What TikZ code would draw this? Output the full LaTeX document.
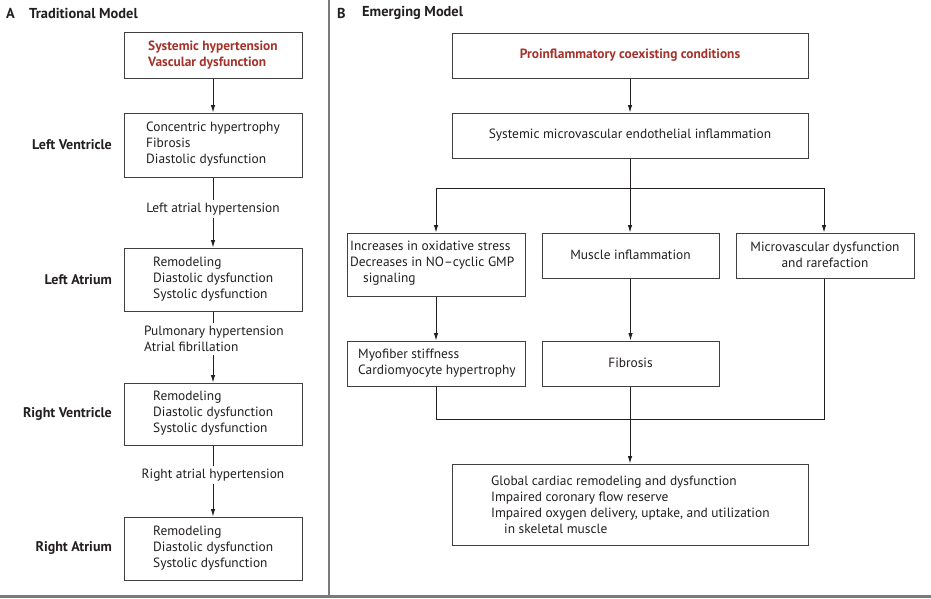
\documentclass[tikz,border=0pt]{standalone}
\usepackage{fontspec}
\setmainfont{PT Sans}
\usetikzlibrary{arrows.meta}
\definecolor{boxline}{HTML}{404040}
\definecolor{txt}{HTML}{231F20}
\definecolor{nejmred}{HTML}{A5332B}
\definecolor{rule}{HTML}{7A7A7A}
\begin{document}
\begin{tikzpicture}[x=1pt,y=-1pt,
  box/.style={draw=boxline,line width=1pt,inner sep=0pt,fill=white},
  lbox/.style={box,minimum width=178pt},
  wbox/.style={box,minimum width=356pt},
  body/.style={inner sep=0pt,text=txt,font=\fontsize{13.4}{16}\selectfont,align=left},
  cbody/.style={body,align=center},
  redt/.style={inner sep=0pt,text=nejmred,font=\fontsize{13.4}{16}\selectfont\bfseries,align=left},
  side/.style={inner sep=0pt,text=txt,font=\fontsize{14}{16}\selectfont\bfseries,anchor=east},
  head/.style={inner sep=0pt,text=txt,font=\fontsize{14.4}{16}\selectfont\bfseries,anchor=west},
  conn/.style={draw=txt,line width=0.9pt},
  arr/.style={conn,-{Latex[length=7.5pt,width=4.5pt]}},
  lab/.style={body,fill=white,inner xsep=1pt,inner ysep=3pt}]
\useasboundingbox (0,0) rectangle (931,598);
\fill[white] (0,0) rectangle (931,598);
% frame rules
\coordinate (divtop) at (329,0);
\coordinate (divbot) at (329,596);
\coordinate (botl) at (0,596.5);
\coordinate (botr) at (931,596.5);
\draw[rule,line width=1.6pt] (divtop) -- (divbot);
\draw[rule,line width=2.6pt] (botl) -- (botr);
% headers
\node[head] (hA) at (6,13) {A};
\node[head] (hAt) at (29,13) {Traditional Model};
\node[head] (hB) at (337,13) {B};
\node[head] (hBt) at (362,13) {Emerging Model};
% ---------- Panel A ----------
\node[lbox,minimum height=46pt] (a1) at (213,55) {};
\node[lbox,minimum height=64pt] (a2) at (213,145) {};
\node[lbox,minimum height=63pt] (a3) at (213,279.5) {};
\node[lbox,minimum height=62pt] (a4) at (213,414) {};
\node[lbox,minimum height=63pt] (a5) at (213,548.5) {};
\node[redt,anchor=west] (a1t) at (148,55) {Systemic hypertension\\Vascular dysfunction};
\node[body,anchor=west] (a2t) at (146,144) {Concentric hypertrophy\\Fibrosis\\Diastolic dysfunction};
\node[body,anchor=west] (a3t) at (153,279) {Remodeling\\Diastolic dysfunction\\Systolic dysfunction};
\node[body,anchor=west] (a4t) at (153,413) {Remodeling\\Diastolic dysfunction\\Systolic dysfunction};
\node[body,anchor=west] (a5t) at (153,548) {Remodeling\\Diastolic dysfunction\\Systolic dysfunction};
\node[side] (lv) at (112,145) {Left Ventricle};
\node[side] (la) at (112,280) {Left Atrium};
\node[side] (rv) at (112,414) {Right Ventricle};
\node[side] (ra) at (112,548) {Right Atrium};
\draw[arr] (a1) -- (a2);
\draw[arr] (a2) -- (a3);
\draw[arr] (a3) -- (a4);
\draw[arr] (a4) -- (a5);
\node[lab] (l1) at (213,209) {Left atrial hypertension};
\node[lab,anchor=west] (l2) at (143,339) {Pulmonary hypertension\\Atrial fibrillation};
\node[lab] (l3) at (213,475) {Right atrial hypertension};
% ---------- Panel B ----------
\node[wbox,minimum height=45pt] (p) at (630,55.5) {};
\node[redt] (pt) at (630,55) {Proinflammatory coexisting conditions};
\node[wbox,minimum height=45pt] (s) at (630,135.5) {};
\node[body] (st) at (630,135) {Systemic microvascular endothelial inflammation};
\node[lbox,minimum height=63pt] (i) at (436,264.5) {};
\node[body,anchor=west] (it) at (350,263) {Increases in oxidative stress\\Decreases in NO--cyclic GMP\\\hspace*{13pt}signaling};
\node[lbox,minimum width=177pt,minimum height=45pt] (m) at (630.5,255.5) {};
\node[body] (mt) at (630.5,255) {Muscle inflammation};
\node[lbox,minimum height=45pt] (v) at (825,255.5) {};
\node[cbody] (vt) at (825,255) {Microvascular dysfunction\\and rarefaction};
\node[lbox,minimum height=45pt] (my) at (436,363.5) {};
\node[body,anchor=west] (myt) at (358,363) {Myofiber stiffness\\Cardiomyocyte hypertrophy};
\node[lbox,minimum width=177pt,minimum height=45pt] (f) at (630.5,363.5) {};
\node[body] (ft) at (630.5,363) {Fibrosis};
\node[wbox,minimum height=81pt] (g) at (630,504.5) {};
\node[body,anchor=west] (gt) at (491,504.5) {Global cardiac remodeling and dysfunction\\Impaired coronary flow reserve\\Impaired oxygen delivery, uptake, and utilization\\\hspace*{13pt}in skeletal muscle};
\draw[arr] (p) -- (s);
% branch
\coordinate (bc) at (630,188);
\coordinate (bl) at (436,188);
\coordinate (br) at (824,188);
\draw[conn] (s.south) -- (bc);
\draw[conn] (bl) -- (br);
\draw[arr] (bl) -- (bl |- i.north);
\draw[arr] (bc) -- (bc |- m.north);
\draw[arr] (br) -- (br |- v.north);
\draw[arr] (i) -- (my);
\draw[arr] (m.south) -- (m.south |- f.north);
% merge
\coordinate (ml) at (436,419);
\coordinate (mc) at (630,419);
\coordinate (mr) at (824,419);
\draw[conn] (my.south) -- (ml) -- (mr) -- (mr |- v.south);
\draw[conn] (f.south -| mc) -- (mc);
\draw[arr] (mc) -- (g.north -| mc);
\end{tikzpicture}
\end{document}
